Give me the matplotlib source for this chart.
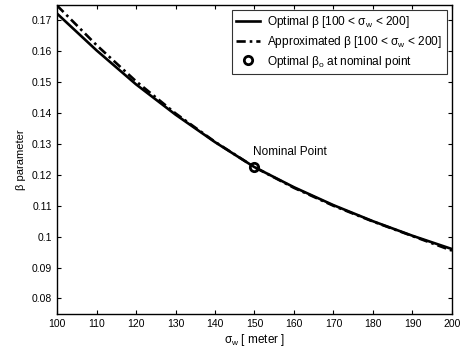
"""
Optimal vs approximated beta parameter as a function of sigma_w.
"""

import matplotlib
matplotlib.use("Agg")
import matplotlib.pyplot as plt
from matplotlib.ticker import FormatStrFormatter

plt.rcParams["font.family"] = ["Liberation Sans", "DejaVu Sans"]
plt.rcParams["mathtext.default"] = "regular"

# ---------------------------------------------------------------------------
# Data
# ---------------------------------------------------------------------------

sigma_w = [100, 110, 120, 130, 140, 150, 160, 170, 180, 190, 200]
beta_opt = [0.1722, 0.1603, 0.1493, 0.1395, 0.1306, 0.1225,
            0.1160, 0.1102, 0.1050, 0.1003, 0.0960]
beta_approx = [0.1748, 0.1620, 0.1503, 0.1399, 0.1307, 0.1225,
               0.1158, 0.1100, 0.1049, 0.1002, 0.0955]
nominal_sigma = [150]
nominal_beta = [0.1225]

x_ticks = [100, 110, 120, 130, 140, 150, 160, 170, 180, 190, 200]
y_ticks = [0.08, 0.09, 0.10, 0.11, 0.12, 0.13, 0.14, 0.15, 0.16, 0.17]

# ---------------------------------------------------------------------------
# Figure
# ---------------------------------------------------------------------------

fig = plt.figure(figsize=(4.65, 3.5), dpi=100)
ax = fig.add_axes([0.1226, 0.103, 0.8494, 0.883])

ax.plot(sigma_w, beta_opt, "-", color="black", lw=1.9,
        label="Optimal β [100 < σ$_w$ < 200]")
ax.plot(sigma_w, beta_approx, color="black", lw=1.9, dashes=(3.5, 1.5, 1, 1.5),
        label="Approximated β [100 < σ$_w$ < 200]")
ax.plot(nominal_sigma, nominal_beta, "o", mfc="none", mec="black",
        ms=6, mew=2, linestyle="none",
        label="Optimal β$_o$ at nominal point")

ax.text(149.6, 0.1274, "Nominal Point", fontsize=8.5, ha="left", va="center")

ax.set_xlim(100, 200)
ax.set_ylim(0.075, 0.175)
ax.set_xticks(x_ticks)
ax.set_yticks(y_ticks)
ax.yaxis.set_major_formatter(FormatStrFormatter("%g"))
ax.tick_params(direction="in", top=True, right=True, labelsize=7.5,
               length=3, width=0.8)
for sp in ax.spines.values():
    sp.set_linewidth(1.0)

ax.set_xlabel(r"$\sigma_w$ [ meter ]", fontsize=8.5, labelpad=2)
ax.set_ylabel("β parameter", fontsize=8, labelpad=4)

leg = ax.legend(loc="upper right", fontsize=8.6, frameon=True, fancybox=False,
                edgecolor="black", handlelength=2.0, borderaxespad=0.45,
                labelspacing=0.3, borderpad=0.35, handletextpad=0.6)
leg.get_frame().set_linewidth(0.8)

fig.savefig("out.png", dpi=100)
